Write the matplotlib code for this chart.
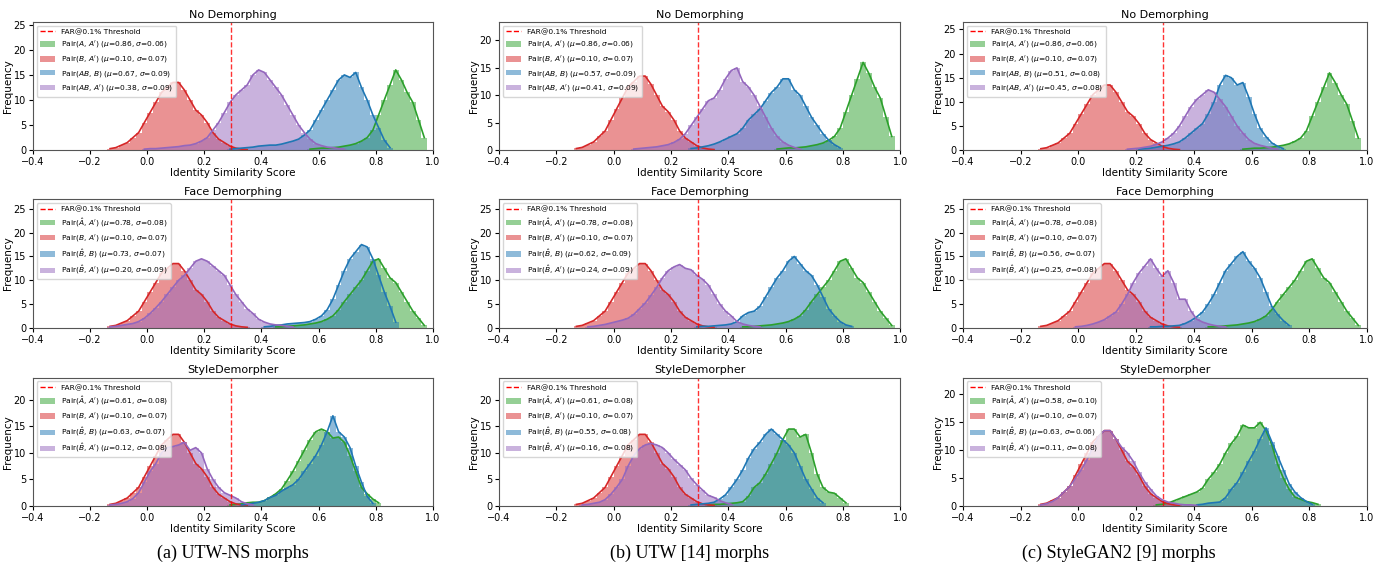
import matplotlib.pyplot as plt
import numpy as np
from matplotlib.lines import Line2D
from matplotlib.patches import Patch

# Histogram values, one bin every 0.02.
# Each series is (centre of first bin, counts).
BIN_WIDTH = 0.02
THRESHOLD = 0.293

RED_BA = (-0.13, [0.3, 0.5, 1.0, 1.5, 2.5, 3.5, 5.5, 7.5, 9.5, 11.5, 12.5, 13.5, 13.5,
                  12, 10, 8, 7, 5.5, 3.5, 2.2, 1.5, 0.8, 0.4, 0.2, 0.1])
GREEN_AA = (0.57, [0.2, 0.3, 0.4, 0.4, 0.5, 0.6, 0.8, 1.0, 1.3, 1.8, 2.5, 4, 7, 10, 13,
                   16, 14, 11.5, 9.5, 6, 2.5])
GREEN_HAT_FACE = (0.45, [0.2, 0.2, 0.3, 0.4, 0.5, 0.6, 0.8, 1.0, 1.3, 1.8, 2.5, 3.8, 5.5,
                         7, 8.5, 10, 12, 14, 14.5, 12.5, 10.5, 9.5, 7.5, 5.5, 3.5, 2, 0.5])

# No Demorphing
UTWNS_NO_BLUE = (0.29, [0.2, 0.3, 0.4, 0.5, 0.6, 0.8, 0.9, 1.0, 1.0, 1.2, 1.5, 1.8, 2.2, 3,
                        4, 6, 8, 10, 12, 14, 15, 14.5, 15.5, 12.5, 10, 7, 4.5, 2, 0.5])
UTWNS_NO_PURPLE = (-0.01, [0.2, 0.3, 0.3, 0.4, 0.5, 0.6, 0.7, 0.9, 1.0, 1.3, 1.8, 2.5, 4,
                           5.5, 7.5, 9.5, 11, 12, 13, 15, 16, 15.5, 14, 12.5, 11, 9, 7, 5,
                           3.5, 2.2, 1.3, 0.9, 0.6, 0.5, 0.3, 0.2])
UTW_NO_BLUE = (0.27, [0.3, 0.4, 0.6, 0.8, 1.1, 1.5, 2, 2.5, 3, 4, 5.5, 6.5, 7.5, 9, 10.5,
                      11.5, 13, 13, 11, 10, 8, 6, 4.5, 3, 1.8, 1, 0.4])
UTW_NO_PURPLE = (0.07, [0.2, 0.3, 0.4, 0.5, 0.6, 0.8, 1.0, 1.4, 2, 3, 4.5, 6, 7.5, 9, 9.5,
                        11, 13, 14.5, 15, 12.5, 11.5, 10, 8, 6, 4, 2.5, 1.5, 0.9, 0.5, 0.2])
SG2_NO_BLUE = (0.21, [0.2, 0.3, 0.4, 0.6, 0.8, 1, 1.3, 1.7, 2.5, 3.5, 4.5, 5.5, 7.5, 10,
                      13.5, 15.5, 15, 13.5, 14, 11, 7.5, 4.5, 2.8, 1.5, 0.8, 0.3])
SG2_NO_PURPLE = (0.17, [0.2, 0.3, 0.4, 0.6, 0.8, 1.2, 1.7, 2.5, 3.5, 5, 7, 9, 10.5, 11.5,
                        12.5, 12, 10.5, 9, 7, 5, 3.5, 2.2, 1.4, 1, 0.7, 0.4, 0.2])

# Face Demorphing
UTWNS_FACE_BLUE = (0.41, [0.2, 0.3, 0.5, 0.6, 0.8, 0.9, 1.0, 1.1, 1.3, 1.8, 2.5, 3.8, 6, 9,
                          12, 14.5, 16, 17.5, 17, 14.5, 11, 7.5, 4.5, 1.2])
UTWNS_FACE_PURPLE = (-0.13, [0.2, 0.3, 0.5, 0.7, 0.9, 1.3, 2, 3, 4.2, 5.5, 7, 8.5, 10, 11,
                             12.5, 14, 14.5, 14, 13, 12, 11, 9, 7, 5.5, 4, 3, 1.8, 1.2,
                             0.8, 0.6, 0.5, 0.3, 0.2])
UTW_FACE_BLUE = (0.29, [0.2, 0.3, 0.3, 0.4, 0.5, 0.6, 0.8, 1.3, 2.5, 3.2, 3.5, 4.5, 6.5,
                        8.5, 10.5, 12, 14, 15, 13.5, 12, 11, 9, 6.5, 4, 2.5, 1.3, 0.6, 0.3])
UTW_FACE_PURPLE = (-0.09, [0.2, 0.3, 0.5, 0.7, 1.0, 1.3, 1.6, 2, 2.8, 4, 5.2, 6.8, 8.5,
                           10.5, 12, 12.8, 13.3, 12.5, 12.2, 11, 10.2, 9, 7, 5, 3.5, 2.5,
                           1.3, 0.8, 0.5, 0.3, 0.2])
SG2_FACE_BLUE = (0.25, [0.2, 0.2, 0.3, 0.3, 0.4, 0.5, 0.9, 1.5, 2.3, 3.3, 5, 7, 9.5, 12,
                        13.5, 15, 16, 14, 12.5, 10.5, 7.5, 4.5, 2.8, 1.5, 0.5])
SG2_FACE_PURPLE = (-0.01, [0.2, 0.3, 0.5, 0.8, 1.2, 1.7, 2.5, 3.3, 5, 7, 9.5, 11.5, 13,
                           14.5, 12.5, 10.8, 12, 9.5, 6, 6, 3.5, 1.8, 1.2, 0.8, 0.5, 0.3,
                           0.2])

# StyleDemorpher
UTWNS_STYLE_GREEN = (0.29, [0.2, 0.3, 0.4, 0.6, 0.7, 0.7, 1.0, 1.6, 2.3, 3.2, 4.8, 6.5,
                            8.5, 10.5, 12.5, 14, 14.5, 14, 12.8, 13, 12, 9.5, 6.5, 3.5,
                            2.3, 1.3, 0.6])
UTWNS_STYLE_BLUE = (0.33, [0.2, 0.3, 0.5, 0.7, 1.0, 1.6, 2, 2.8, 3.4, 4, 5, 6.5, 8, 9.5,
                           11.5, 14, 17, 14, 13, 11, 7.5, 4.5, 1.8, 0.5])
UTWNS_STYLE_PURPLE = (-0.13, [0.2, 0.3, 0.5, 0.8, 1.4, 2.5, 4.5, 6.5, 8, 10, 11, 11.2,
                              11.5, 12, 10.5, 11, 10, 7, 5, 3.5, 2.5, 2, 1.5, 0.8, 0.4,
                              0.2])
UTW_STYLE_GREEN = (0.33, [0.2, 0.3, 0.3, 0.4, 0.5, 0.6, 0.8, 1.8, 3.5, 4.4, 6, 8, 10,
                          12.5, 14.5, 14.5, 13, 13.5, 10, 6, 3.5, 2.6, 2.4, 1.5, 0.6])
UTW_STYLE_BLUE = (0.27, [0.2, 0.3, 0.4, 0.5, 0.7, 1.3, 2.1, 3.5, 5, 6.8, 9, 10.8, 12,
                         13.5, 14.5, 13.5, 12.5, 11.5, 10, 7.5, 5, 3.2, 1.5, 0.6])
UTW_STYLE_PURPLE = (-0.11, [0.2, 0.3, 0.5, 0.7, 1.2, 2.2, 3.5, 5, 7.5, 9.5, 10.8, 11.5,
                            11.8, 11.5, 11, 10, 8.8, 7.8, 6.8, 5.2, 4, 3, 2, 1.6, 1, 0.6,
                            0.3])
SG2_STYLE_GREEN = (0.27, [0.2, 0.3, 0.5, 0.9, 1.3, 1.7, 2.1, 2.5, 3.2, 4.8, 6, 7.5, 9.5,
                          11.2, 12.5, 14.5, 14, 14, 15, 13.5, 11, 7.5, 5, 3, 1.6, 1.2, 0.8,
                          0.6, 0.3])
SG2_STYLE_BLUE = (0.41, [0.2, 0.3, 0.5, 0.6, 0.7, 1.5, 3, 4.2, 6, 8, 9.8, 12, 14, 11.5, 9,
                         6.5, 4, 2.5, 1.5, 0.8, 0.3])
SG2_STYLE_PURPLE = (-0.13, [0.2, 0.4, 0.8, 1.5, 2.5, 3.5, 5, 6.5, 8.3, 10.5, 12.5, 13.5,
                            13.5, 12, 10.5, 9.5, 8, 6, 4.3, 3, 1.8, 1.1, 0.7, 0.5, 0.3,
                            0.2, 0.2, 0.1])

ROW_TITLES = ["No Demorphing", "Face Demorphing", "StyleDemorpher"]
COL_CAPTIONS = ["(a) UTW-NS morphs", "(b) UTW [14] morphs", "(c) StyleGAN2 [9] morphs"]
PAIRS_NO = ["$A$, $A'$", "$B$, $A'$", "$AB$, $B$", "$AB$, $A'$"]
PAIRS_DEMORPH = [r"$\hat{A}$, $A'$", "$B$, $A'$", r"$\hat{B}$, $B$", r"$\hat{B}$, $A'$"]

# series per panel, in order green, red, blue, purple
SERIES = [
    [[GREEN_AA, RED_BA, UTWNS_NO_BLUE, UTWNS_NO_PURPLE],
     [GREEN_AA, RED_BA, UTW_NO_BLUE, UTW_NO_PURPLE],
     [GREEN_AA, RED_BA, SG2_NO_BLUE, SG2_NO_PURPLE]],
    [[GREEN_HAT_FACE, RED_BA, UTWNS_FACE_BLUE, UTWNS_FACE_PURPLE],
     [GREEN_HAT_FACE, RED_BA, UTW_FACE_BLUE, UTW_FACE_PURPLE],
     [GREEN_HAT_FACE, RED_BA, SG2_FACE_BLUE, SG2_FACE_PURPLE]],
    [[UTWNS_STYLE_GREEN, RED_BA, UTWNS_STYLE_BLUE, UTWNS_STYLE_PURPLE],
     [UTW_STYLE_GREEN, RED_BA, UTW_STYLE_BLUE, UTW_STYLE_PURPLE],
     [SG2_STYLE_GREEN, RED_BA, SG2_STYLE_BLUE, SG2_STYLE_PURPLE]],
]
STATS = [
    [[(0.86, 0.06), (0.10, 0.07), (0.67, 0.09), (0.38, 0.09)],
     [(0.86, 0.06), (0.10, 0.07), (0.57, 0.09), (0.41, 0.09)],
     [(0.86, 0.06), (0.10, 0.07), (0.51, 0.08), (0.45, 0.08)]],
    [[(0.78, 0.08), (0.10, 0.07), (0.73, 0.07), (0.20, 0.09)],
     [(0.78, 0.08), (0.10, 0.07), (0.62, 0.09), (0.24, 0.09)],
     [(0.78, 0.08), (0.10, 0.07), (0.56, 0.07), (0.25, 0.08)]],
    [[(0.61, 0.08), (0.10, 0.07), (0.63, 0.07), (0.12, 0.08)],
     [(0.61, 0.08), (0.10, 0.07), (0.55, 0.08), (0.16, 0.08)],
     [(0.58, 0.10), (0.10, 0.07), (0.63, 0.06), (0.11, 0.08)]],
]
Y_MAX = [[25.6, 23.4, 26.6], [27.0, 27.0, 27.0], [24.2, 24.2, 23.0]]

COLORS = ["#2ca02c", "#d62728", "#1f77b4", "#9467bd"]

fig = plt.figure(figsize=(13.79, 5.73), dpi=100)

col_left = [0.0239, 0.3619, 0.6983]
col_width = [0.290, 0.291, 0.293]
row_bottom = [0.738, 0.428, 0.117]
row_height = 0.224

for r in range(3):
    pairs = PAIRS_NO if r == 0 else PAIRS_DEMORPH
    for c in range(3):
        ax = fig.add_axes([col_left[c], row_bottom[r], col_width[c], row_height])
        handles = [Line2D([], [], color="red", linestyle="--", linewidth=1.0,
                          label="FAR@0.1% Threshold")]
        for k, (start, counts) in enumerate(SERIES[r][c]):
            counts = np.asarray(counts, dtype=float)
            centers = start + BIN_WIDTH * np.arange(len(counts))
            ax.bar(centers, counts, width=BIN_WIDTH, color=COLORS[k], alpha=0.5,
                   linewidth=0)
            ax.plot(centers, counts, color=COLORS[k], linewidth=1.2)
            mu, sigma = STATS[r][c][k]
            label = rf"Pair({pairs[k]}) ($\mu$={mu:.2f}, $\sigma$={sigma:.2f})"
            handles.append(Patch(facecolor=COLORS[k], alpha=0.5, label=label))
        ax.axvline(THRESHOLD, color="red", linestyle="--", linewidth=1.0, alpha=0.8)

        ax.set_xlim(-0.4, 1.0)
        ax.set_ylim(0, Y_MAX[r][c])
        ax.set_title(ROW_TITLES[r], fontsize=8, pad=3)
        ax.set_xlabel("Identity Similarity Score", fontsize=7.5, labelpad=1)
        ax.set_ylabel("Frequency", fontsize=7.5, labelpad=0.5)
        ax.tick_params(labelsize=7, length=3, pad=2)
        for spine in ax.spines.values():
            spine.set_color("#555555")
            spine.set_linewidth(0.8)
        ax.legend(handles=handles, loc="upper left", fontsize=5.4,
                  handlelength=2.0, labelspacing=0.5, borderpad=0.4)

caption_x = [0.169, 0.5, 0.811]
for c in range(3):
    fig.text(caption_x[c], 0.035, COL_CAPTIONS[c], ha="center", va="center",
             fontsize=13, family="Liberation Serif")

fig.savefig("out.png", dpi=100)
